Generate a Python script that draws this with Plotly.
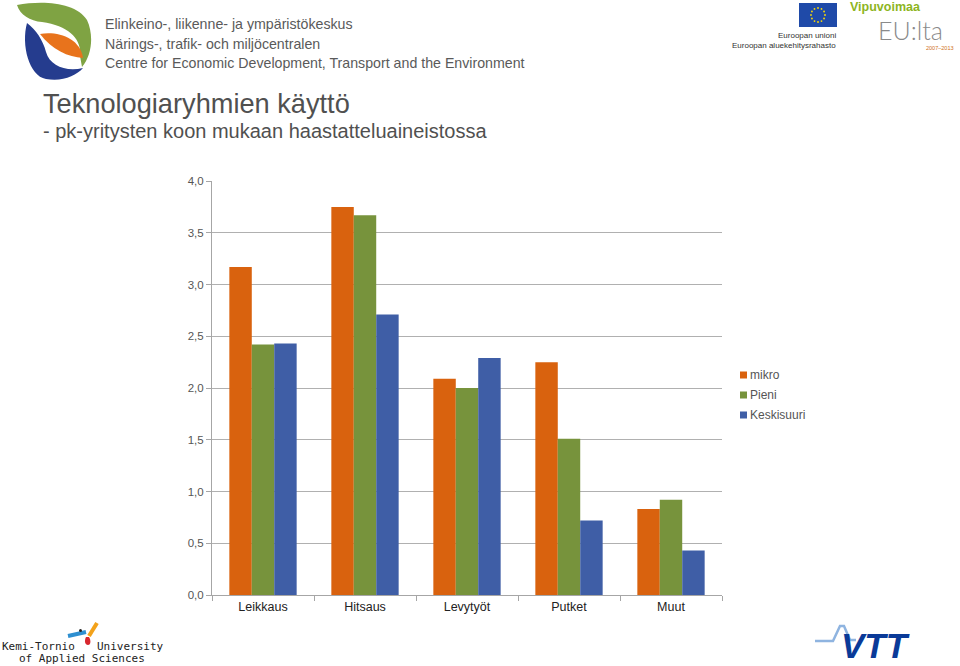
import math
import plotly.graph_objects as go

categories = ["Leikkaus", "Hitsaus", "Levytyöt", "Putket", "Muut"]
series_names = ["mikro", "Pieni", "Keskisuuri"]
mikro = [3.17, 3.75, 2.09, 2.25, 0.83]
pieni = [2.42, 3.67, 2.00, 1.51, 0.92]
keskisuuri = [2.43, 2.71, 2.29, 0.72, 0.43]
y_ticks = [0, 0.5, 1.0, 1.5, 2.0, 2.5, 3.0, 3.5, 4.0]

colors = ["#D9620E", "#77933C", "#3F5EA6"]

W, H = 960, 666
L, R, T, B = 212, 722, 181, 595  # plot area in page pixels


def px(x, y):
    return (x - L) / (R - L), (B - y) / (B - T)


def path(cmds):
    out = []
    for c in cmds:
        if isinstance(c, str):
            out.append(c)
        else:
            X, Y = px(*c)
            out.append(f"{X:.5f},{Y:.5f}")
    return " ".join(out)


def rect(xa, ya, xb, yb, color):
    X0, Y0 = px(xa, ya)
    X1, Y1 = px(xb, yb)
    return dict(type="rect", xref="paper", yref="paper", x0=X0, y0=Y1, x1=X1, y1=Y0,
                fillcolor=color, line=dict(width=0))


fig = go.Figure()
for name, vals, col in zip(series_names, [mikro, pieni, keskisuuri], colors):
    fig.add_trace(go.Bar(name=name, x=categories, y=vals, showlegend=False,
                         marker=dict(color=col, line=dict(width=0))))

shapes = []
# ELY logo
shapes.append(dict(type="path", xref="paper", yref="paper", fillcolor="#7FA343", line=dict(width=0),
                   path=path(["M", (17, 5), "C", (42, 0), (76, 2), (87, 20), "C", (94, 35), (92, 55), (82, 67),
                              "L", (80, 56), "C", (82, 40), (70, 26), (42, 22), "C", (30, 21), (20, 15), (17, 5), "Z"])))
shapes.append(dict(type="path", xref="paper", yref="paper", fillcolor="#E8731C", line=dict(width=0),
                   path=path(["M", (40, 34), "C", (58, 31), (80, 38), (83, 58), "C", (68, 57), (52, 50), (40, 34), "Z"])))
shapes.append(dict(type="path", xref="paper", yref="paper", fillcolor="#253C8E", line=dict(width=0),
                   path=path(["M", (27, 23), "C", (21, 45), (29, 76), (46, 79), "C", (62, 82), (76, 76), (83, 68),
                              "C", (66, 72), (50, 66), (46, 52), "C", (43, 40), (36, 30), (27, 23), "Z"])))
# EU flag
shapes.append(rect(799, 3, 837, 27, "#1F4AA8"))
for k in range(12):
    a = 2 * math.pi * k / 12
    cx, cy = 818 + 7 * math.cos(a), 15 + 7 * math.sin(a)
    ax0, ay0 = px(cx - 0.9, cy - 0.9)
    ax1, ay1 = px(cx + 0.9, cy + 0.9)
    shapes.append(dict(type="circle", xref="paper", yref="paper", x0=ax0, y0=ay1, x1=ax1, y1=ay0,
                       fillcolor="#FFDD00", line=dict(width=0)))
# Kemi-Tornio marks
shapes.append(dict(type="path", xref="paper", yref="paper", line=dict(color="#2E8FD0", width=4),
                   path=path(["M", (68, 636), "L", (86, 632)])))
shapes.append(dict(type="path", xref="paper", yref="paper", line=dict(color="#F3A21B", width=4),
                   path=path(["M", (89, 636), "L", (97, 623)])))
shapes.append(dict(type="path", xref="paper", yref="paper", fillcolor="#D8262E", line=dict(width=0),
                   path=path(["M", (86, 637), "C", (84, 641), (85, 645), (88, 645), "C", (91, 645), (91, 640), (89, 637), "Z"])))
cx0, cy0 = px(79, 629)
cx1, cy1 = px(82, 632)
shapes.append(dict(type="circle", xref="paper", yref="paper", x0=cx0, y0=cy1, x1=cx1, y1=cy0,
                   fillcolor="#222222", line=dict(width=0)))
# VTT wave
shapes.append(dict(type="path", xref="paper", yref="paper", line=dict(color="#8FB4E0", width=2.5),
                   path=path(["M", (815, 641), "L", (833, 641), "L", (840, 626), "L", (844, 626),
                              "L", (850, 640), "L", (856, 640)])))


def ann(text, x, y, size, color, xanchor="left", yanchor="middle",
        family="Liberation Sans, Arial, sans-serif", weight=None):
    X, Y = px(x, y)
    font = dict(size=size, color=color, family=family)
    if weight is not None:
        font["weight"] = weight
    return dict(text=text, x=X, y=Y, xref="paper", yref="paper", showarrow=False,
                xanchor=xanchor, yanchor=yanchor, borderpad=0, font=font)


gray = "#5A5A5A"
mono = "DejaVu Sans Mono, monospace"
annotations = [
    ann("Elinkeino-, liikenne- ja ympäristökeskus", 104, 24, 14.2, gray),
    ann("Närings-, trafik- och miljöcentralen", 104, 44, 14.2, gray),
    ann("Centre for Economic Development, Transport and the Environment", 104, 63, 14.2, gray),
    ann("Teknologiaryhmien käyttö", 42, 103, 27.2, "#505050"),
    ann("- pk-yritysten koon mukaan haastatteluaineistossa", 42, 131, 20, "#505050"),
    ann("Euroopan unioni", 837, 35, 8, "#333333", xanchor="right"),
    ann("Euroopan aluekehitysrahasto", 837, 45, 8, "#333333", xanchor="right"),
    ann("<b>Vipuvoimaa</b>", 849, 7, 12.5, "#8DB51E"),
    ann("EU:lta", 877, 30, 25, "#8A8A8A", family="Lato, Liberation Sans, sans-serif", weight=300),
    ann("2007–2013", 955, 48.5, 5.5, "#D07020", xanchor="right"),
    ann("Kemi-Tornio", 1, 646, 11, "#222222", family=mono),
    ann("University", 96, 646, 11, "#222222", family=mono),
    ann("of Applied Sciences", 18, 658, 11, "#222222", family=mono),
    ann("<b><i>VTT</i></b>", 840, 645, 35, "#0A3A98"),
]

# legend (drawn as small squares with labels)
for i, (name, col) in enumerate(zip(series_names, colors)):
    yy = 375 + 20 * i
    shapes.append(rect(740, yy - 3.5, 747, yy + 3.5, col))
    annotations.append(ann(name, 749, yy, 12, "#555555"))

fig.update_layout(
    width=W, height=H,
    margin=dict(l=L, r=W - R, t=T, b=H - B, pad=0),
    paper_bgcolor="white", plot_bgcolor="white",
    barmode="group", bargap=0.34, bargroupgap=0,
    separators=", ",
    showlegend=False,
    font=dict(family="Liberation Sans, Arial, sans-serif", color="#444444"),
    xaxis=dict(showline=True, linecolor="#A6A6A6", linewidth=1, ticks="outside", tickson="boundaries",
               ticklen=5, tickcolor="#A6A6A6", tickfont=dict(size=12.5, color="#222222"), showgrid=False),
    yaxis=dict(range=[0, 4], tickvals=y_ticks, tickformat=".1f", showline=True, linecolor="#A6A6A6",
               linewidth=1, ticks="outside", ticklen=5, tickcolor="#A6A6A6", gridcolor="#B0B0B0",
               gridwidth=1, tickfont=dict(size=11.5, color="#555555"), zeroline=False),
    shapes=shapes,
    annotations=annotations,
)

fig.write_html("out.html", config={"displayModeBar": False},
               post_script="document.body.style.margin='0';document.body.style.overflow='hidden';")
